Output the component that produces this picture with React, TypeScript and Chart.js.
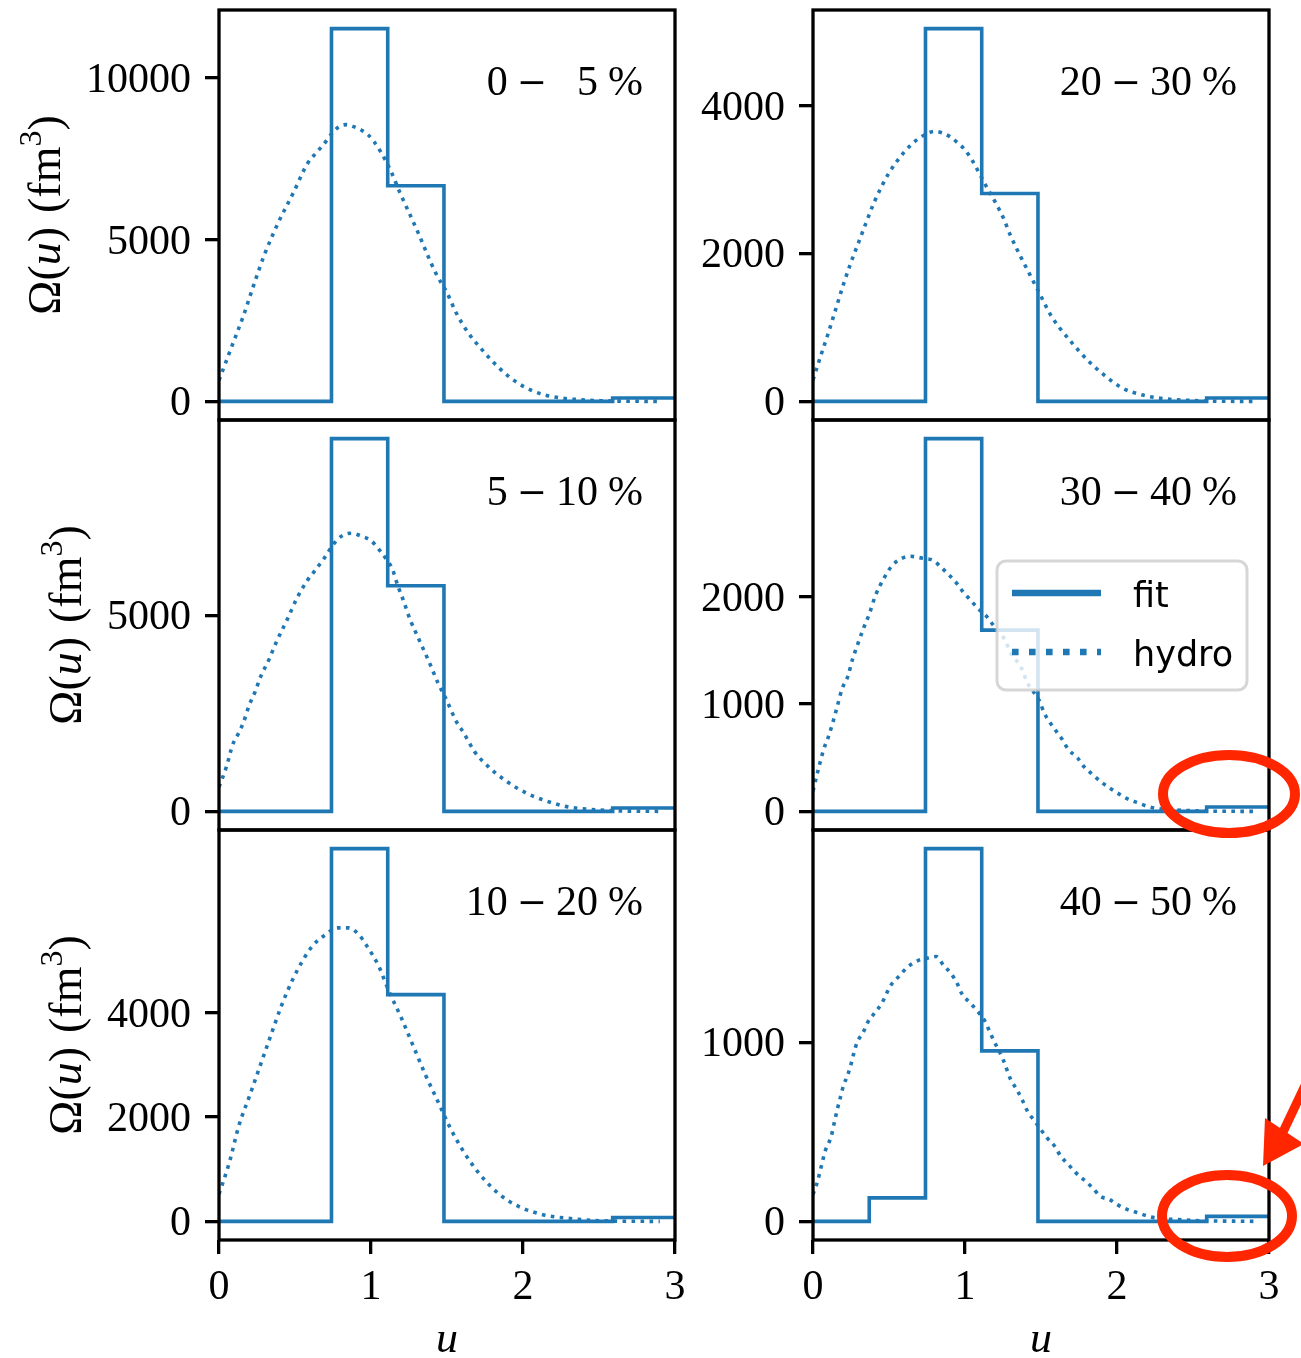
import { useEffect, useRef } from 'react';
import { Chart, registerables } from 'chart.js';

Chart.register(...registerables);

const PAGE_W = 1301;
const PAGE_H = 1358;

const SERIF = "'Liberation Serif', 'Times New Roman', serif";
const MINUS_FONT = "'DejaVu Serif', serif";
const SANS = "'DejaVu Sans', 'Noto Sans', sans-serif";
const BLUE = '#1f77b4';
const RED = '#ff2600';

// Left edges of the u bins of the fitted Ω(u); the last bin runs up to U_MAX.
const BIN_EDGES = [0, 0.37, 0.74, 1.11, 1.48, 1.85, 2.22, 2.59];
const U_MAX = 3;
const U_TICKS = [0, 1, 2, 3];

// Fitted Ω(u) per bin (fm^3)
const FIT_0_5 = [0, 0, 11530, 6670, 0, 0, 0, 105];
const FIT_5_10 = [0, 0, 9500, 5750, 0, 0, 0, 85];
const FIT_10_20 = [0, 0, 7150, 4350, 0, 0, 0, 75];
const FIT_20_30 = [0, 0, 5040, 2810, 0, 0, 0, 46];
const FIT_30_40 = [0, 0, 3475, 1690, 0, 0, 0, 40];
const FIT_40_50 = [0, 131, 2083, 953, 0, 0, 0, 28];

// Hydro Ω(u) samples as [u, Ω]
const HYDRO_0_5 = [
  [0, 650], [0.08, 1650], [0.16, 2640], [0.23, 3620], [0.3, 4550], [0.39, 5530],
  [0.49, 6460], [0.58, 7340], [0.64, 7690], [0.69, 7960], [0.74, 8270], [0.79, 8500],
  [0.84, 8560], [0.89, 8490], [0.94, 8380], [0.98, 8250], [1.02, 8030], [1.06, 7750],
  [1.13, 7130], [1.19, 6460], [1.25, 5840], [1.31, 5220], [1.37, 4550], [1.43, 3930],
  [1.5, 3360], [1.56, 2740], [1.64, 2120], [1.73, 1600], [1.83, 1090], [1.94, 650],
  [2.07, 310], [2.22, 125], [2.36, 55], [2.52, 20], [2.66, 5], [2.9, 0],
];
const HYDRO_5_10 = [
  [0, 620], [0.05, 1150], [0.09, 1700], [0.13, 2000], [0.16, 2260], [0.2, 2720],
  [0.24, 3070], [0.27, 3400], [0.33, 3880], [0.38, 4340], [0.45, 4900], [0.51, 5410],
  [0.58, 5880], [0.63, 6130], [0.69, 6440], [0.75, 6790], [0.8, 7000], [0.87, 7090],
  [0.94, 7010], [1.0, 6900], [1.06, 6640], [1.1, 6430], [1.14, 6180], [1.18, 5710],
  [1.21, 5410], [1.26, 4860], [1.29, 4600], [1.32, 4340], [1.38, 3830], [1.44, 3280],
  [1.5, 2810], [1.56, 2300], [1.61, 2000], [1.68, 1530], [1.78, 1110], [1.89, 770],
  [2.02, 470], [2.16, 256], [2.3, 112], [2.45, 50], [2.6, 15], [2.9, 0],
];
const HYDRO_10_20 = [
  [0, 520], [0.07, 1150], [0.13, 1830], [0.2, 2400], [0.27, 2980], [0.34, 3560],
  [0.41, 4130], [0.48, 4610], [0.55, 5000], [0.62, 5300], [0.7, 5500], [0.78, 5630],
  [0.85, 5630], [0.92, 5500], [0.98, 5250], [1.05, 4900], [1.12, 4400], [1.2, 3900],
  [1.28, 3350], [1.36, 2800], [1.44, 2300], [1.52, 1800], [1.6, 1380], [1.7, 960],
  [1.8, 635], [1.9, 400], [2.0, 250], [2.15, 115], [2.3, 58], [2.45, 20], [2.6, 5], [2.9, 0],
];
const HYDRO_20_30 = [
  [0, 290], [0.05, 610], [0.1, 920], [0.15, 1250], [0.2, 1580], [0.25, 1880],
  [0.3, 2150], [0.35, 2420], [0.4, 2680], [0.45, 2900], [0.5, 3090], [0.55, 3240],
  [0.6, 3370], [0.65, 3480], [0.7, 3560], [0.75, 3620], [0.8, 3650], [0.85, 3630],
  [0.9, 3580], [0.95, 3500], [1.0, 3400], [1.05, 3250], [1.1, 3060], [1.15, 2870],
  [1.2, 2690], [1.25, 2490], [1.3, 2240], [1.37, 1940], [1.43, 1700], [1.5, 1420],
  [1.56, 1180], [1.62, 1000], [1.7, 800], [1.8, 570], [1.91, 365], [2.03, 185],
  [2.18, 80], [2.32, 33], [2.46, 15], [2.6, 3], [2.9, 0],
];
const HYDRO_30_40 = [
  [0, 190], [0.04, 420], [0.07, 577], [0.1, 690], [0.13, 826], [0.16, 981],
  [0.19, 1137], [0.23, 1262], [0.26, 1418], [0.29, 1542], [0.33, 1698], [0.37, 1838],
  [0.41, 2009], [0.47, 2181], [0.52, 2290], [0.58, 2355], [0.64, 2378], [0.72, 2360],
  [0.79, 2340], [0.84, 2280], [0.9, 2196], [0.95, 2119], [0.99, 2041], [1.04, 1963],
  [1.09, 1885], [1.14, 1822], [1.19, 1729], [1.26, 1605], [1.3, 1480], [1.37, 1340],
  [1.41, 1200], [1.49, 1028], [1.52, 920], [1.56, 826], [1.6, 748], [1.64, 670],
  [1.68, 577], [1.74, 499], [1.78, 421], [1.84, 343], [1.89, 280], [1.95, 219],
  [2.02, 156], [2.07, 116], [2.14, 79], [2.2, 47], [2.29, 22], [2.44, 9], [2.6, 2], [2.9, 0],
];
const HYDRO_40_50 = [
  [0, 150], [0.03, 224], [0.06, 327], [0.08, 392], [0.12, 476], [0.14, 552],
  [0.16, 626], [0.18, 692], [0.2, 757], [0.23, 822], [0.25, 878], [0.27, 944],
  [0.29, 1000], [0.33, 1056], [0.36, 1112], [0.4, 1159], [0.45, 1215], [0.51, 1317],
  [0.57, 1373], [0.62, 1420], [0.69, 1457], [0.75, 1470], [0.81, 1480], [0.86, 1429],
  [0.91, 1383], [0.95, 1327], [0.98, 1271], [1.03, 1224], [1.08, 1177], [1.13, 1121],
  [1.16, 1065], [1.19, 1009], [1.25, 906], [1.3, 794], [1.34, 738], [1.38, 673],
  [1.41, 617], [1.45, 570], [1.49, 523], [1.54, 467], [1.59, 420], [1.63, 364],
  [1.68, 318], [1.73, 271], [1.78, 234], [1.84, 187], [1.89, 140], [1.95, 122],
  [2.0, 94], [2.07, 66], [2.14, 47], [2.22, 25], [2.31, 13], [2.4, 10], [2.5, 5], [2.9, 0],
];

// Y tick values per panel
const Y_TICKS_0_5 = [0, 5000, 10000];
const Y_TICKS_5_10 = [0, 5000];
const Y_TICKS_10_20 = [0, 2000, 4000];
const Y_TICKS_20_30 = [0, 2000, 4000];
const Y_TICKS_30_40 = [0, 1000, 2000];
const Y_TICKS_40_50 = [0, 1000];

// Centrality classes: [lower, upper] in percent
const CENTRALITY_LOW = ['0', '5', '10', '20', '30', '40'];
const CENTRALITY_HIGH = ['\u20075', '10', '20', '30', '40', '50'];

// Grid of plot areas (page pixels)
const COL_LEFT = [219, 813];
const COL_RIGHT = [675, 1269];
const ROW_TOP = [10, 420, 830];
const ROW_BOTTOM = [420, 830, 1240];
const Y_AXIS_W = 150;
const X_AXIS_H = 60;

const LINE_W = 3.6;

type Panel = {
  low: string;
  high: string;
  fit: number[];
  hydro: number[][];
  yTicks: number[];
  row: number;
  col: number;
  legend?: boolean;
  marks?: boolean;
};

const PANELS: Panel[] = [
  { low: CENTRALITY_LOW[0], high: CENTRALITY_HIGH[0], fit: FIT_0_5, hydro: HYDRO_0_5, yTicks: Y_TICKS_0_5, row: 0, col: 0 },
  { low: CENTRALITY_LOW[1], high: CENTRALITY_HIGH[1], fit: FIT_5_10, hydro: HYDRO_5_10, yTicks: Y_TICKS_5_10, row: 1, col: 0 },
  { low: CENTRALITY_LOW[2], high: CENTRALITY_HIGH[2], fit: FIT_10_20, hydro: HYDRO_10_20, yTicks: Y_TICKS_10_20, row: 2, col: 0 },
  { low: CENTRALITY_LOW[3], high: CENTRALITY_HIGH[3], fit: FIT_20_30, hydro: HYDRO_20_30, yTicks: Y_TICKS_20_30, row: 0, col: 1 },
  { low: CENTRALITY_LOW[4], high: CENTRALITY_HIGH[4], fit: FIT_30_40, hydro: HYDRO_30_40, yTicks: Y_TICKS_30_40, row: 1, col: 1, legend: true },
  { low: CENTRALITY_LOW[5], high: CENTRALITY_HIGH[5], fit: FIT_40_50, hydro: HYDRO_40_50, yTicks: Y_TICKS_40_50, row: 2, col: 1, marks: true },
];

// Draws a run of [text, font, dy] pieces along the current baseline, starting at x.
function drawPieces(ctx: CanvasRenderingContext2D, pieces: any[], x: number, y: number) {
  let cx = x;
  pieces.forEach((s) => {
    if (s.gap) {
      cx += s.gap;
      return;
    }
    ctx.font = s.font;
    ctx.fillText(s.t, cx, y + (s.dy || 0));
    cx += ctx.measureText(s.t).width;
  });
}

function piecesWidth(ctx: CanvasRenderingContext2D, pieces: any[]) {
  return pieces.reduce((sum, s) => {
    if (s.gap) return sum + s.gap;
    ctx.font = s.font;
    return sum + ctx.measureText(s.t).width;
  }, 0);
}

function drawCentrality(ctx: CanvasRenderingContext2D, p: Panel, right: number, baseline: number) {
  const pieces = [
    { t: p.low, font: `42px ${SERIF}` },
    { gap: 9 },
    { t: '\u2212', font: `36px ${MINUS_FONT}`, dy: -1 },
    { gap: 9 },
    { t: p.high, font: `42px ${SERIF}` },
    { gap: 10 },
    { t: '%', font: `42px ${SERIF}` },
  ];
  ctx.textAlign = 'left';
  ctx.textBaseline = 'alphabetic';
  ctx.fillStyle = '#000';
  const w = piecesWidth(ctx, pieces);
  drawPieces(ctx, pieces, right - w, baseline);
}

function drawYTitle(ctx: CanvasRenderingContext2D, chart: any, p: Panel) {
  const a = chart.chartArea;
  ctx.font = `42px ${SERIF}`;
  const maxW = Math.max(...p.yTicks.map((v) => ctx.measureText(String(v)).width));
  const baseX = a.left - 28 - maxW - 26;
  const cy = (a.top + a.bottom) / 2;
  const pieces = [
    { t: '\u03A9(', font: `46px ${SERIF}` },
    { t: 'u', font: `italic 46px ${SERIF}` },
    { t: ')', font: `46px ${SERIF}` },
    { gap: 14 },
    { t: '(fm', font: `46px ${SERIF}` },
    { t: '3', font: `32px ${SERIF}`, dy: -19 },
    { t: ')', font: `46px ${SERIF}` },
  ];
  const total = piecesWidth(ctx, pieces);
  ctx.save();
  ctx.translate(baseX, cy);
  ctx.rotate(-Math.PI / 2);
  ctx.textAlign = 'left';
  ctx.textBaseline = 'alphabetic';
  ctx.fillStyle = '#000';
  drawPieces(ctx, pieces, -total / 2, 0);
  ctx.restore();
}

function drawLegend(ctx: CanvasRenderingContext2D, chart: any) {
  const a = chart.chartArea;
  const bx = a.right - 272;
  const by = a.top + 141;
  const bw = 250;
  const bh = 129;
  ctx.save();
  ctx.beginPath();
  if ((ctx as any).roundRect) (ctx as any).roundRect(bx, by, bw, bh, 9);
  else ctx.rect(bx, by, bw, bh);
  ctx.fillStyle = 'rgba(255,255,255,0.8)';
  ctx.fill();
  ctx.lineWidth = 3;
  ctx.strokeStyle = 'rgba(204,204,204,0.8)';
  ctx.stroke();
  chart.data.datasets.forEach((ds: any, i: number) => {
    const y = by + 32 + i * 59;
    ctx.beginPath();
    ctx.strokeStyle = ds.borderColor;
    ctx.lineWidth = 6.6;
    ctx.setLineDash(ds.borderDash ? [6.6, 10.4] : []);
    ctx.lineCap = 'butt';
    ctx.moveTo(bx + 15, y);
    ctx.lineTo(bx + 104, y);
    ctx.stroke();
    ctx.setLineDash([]);
    ctx.fillStyle = '#000';
    ctx.font = `35px ${SANS}`;
    ctx.textAlign = 'left';
    ctx.textBaseline = 'alphabetic';
    ctx.fillText(ds.label, bx + 136, y + 14);
  });
  ctx.restore();
}

function drawMarks(ctx: CanvasRenderingContext2D) {
  ctx.save();
  ctx.strokeStyle = RED;
  ctx.fillStyle = RED;
  ctx.lineWidth = 10;
  ctx.beginPath();
  ctx.ellipse(1229, 794, 66, 39, 0, 0, Math.PI * 2);
  ctx.stroke();
  ctx.beginPath();
  ctx.ellipse(1227, 1216, 65, 41, 0, 0, Math.PI * 2);
  ctx.stroke();
  ctx.lineWidth = 9;
  ctx.beginPath();
  ctx.moveTo(1283, 1132);
  ctx.lineTo(1310, 1075);
  ctx.stroke();
  ctx.beginPath();
  ctx.moveTo(1263, 1166);
  ctx.lineTo(1265, 1118);
  ctx.lineTo(1304, 1144);
  ctx.closePath();
  ctx.fill();
  ctx.restore();
}

function decorPlugin(p: Panel) {
  return {
    id: 'panelDecor',
    afterDraw(chart: any) {
      const { ctx, chartArea: a } = chart;
      ctx.save();
      ctx.strokeStyle = '#000';
      ctx.lineWidth = 3.3;
      ctx.setLineDash([]);
      ctx.strokeRect(a.left, a.top, a.right - a.left, a.bottom - a.top);

      drawCentrality(ctx, p, a.right - 32, a.top + 85);

      if (p.col === 0) drawYTitle(ctx, chart, p);
      if (p.row === 2) {
        ctx.fillStyle = '#000';
        ctx.font = `italic 44px ${SERIF}`;
        ctx.textAlign = 'center';
        ctx.textBaseline = 'alphabetic';
        ctx.fillText('u', (a.left + a.right) / 2, a.bottom + 112);
      }
      if (p.legend) drawLegend(ctx, chart);
      if (p.marks) drawMarks(ctx);
      ctx.restore();
    },
  };
}

function makeConfig(p: Panel): any {
  const L = COL_LEFT[p.col];
  const R = COL_RIGHT[p.col];
  const T = ROW_TOP[p.row];
  const B = ROW_BOTTOM[p.row];
  const bottomRow = p.row === 2;
  const peak = Math.max(...p.fit);
  const fitPoints = p.fit.map((v, i) => ({ x: BIN_EDGES[i], y: v }));
  fitPoints.push({ x: U_MAX, y: p.fit[p.fit.length - 1] });
  const tickFont = { family: SERIF, size: 42, lineHeight: 1.2 };
  const gridOpts = {
    drawOnChartArea: false,
    drawTicks: true,
    tickLength: 14,
    tickWidth: 3.3,
    tickColor: '#000',
    lineWidth: 3.3,
    color: '#000',
  };
  return {
    type: 'line',
    data: {
      datasets: [
        {
          label: 'fit',
          data: fitPoints,
          borderColor: BLUE,
          borderWidth: LINE_W,
          stepped: true,
          pointRadius: 0,
          fill: false,
          order: 2,
        },
        {
          label: 'hydro',
          data: p.hydro.map(([x, y]) => ({ x, y })),
          borderColor: BLUE,
          borderWidth: LINE_W,
          borderDash: [LINE_W, 5.4],
          pointRadius: 0,
          fill: false,
          cubicInterpolationMode: 'monotone',
          order: 1,
        },
      ],
    },
    options: {
      animation: false,
      responsive: false,
      maintainAspectRatio: false,
      devicePixelRatio: 1,
      events: [],
      layout: {
        autoPadding: false,
        padding: {
          left: L - Y_AXIS_W,
          top: T,
          right: PAGE_W - R,
          bottom: PAGE_H - B - (bottomRow ? X_AXIS_H : 0),
        },
      },
      plugins: {
        legend: { display: false },
        tooltip: { enabled: false },
        title: { display: false },
      },
      scales: {
        x: {
          type: 'linear',
          min: 0,
          max: U_MAX,
          bounds: 'data',
          display: bottomRow,
          afterBuildTicks: (s: any) => {
            s.ticks = U_TICKS.map((value) => ({ value }));
          },
          afterFit: (s: any) => {
            s.height = bottomRow ? X_AXIS_H : 0;
            s.paddingLeft = 0;
            s.paddingRight = 0;
            s.paddingTop = 0;
            s.paddingBottom = 0;
          },
          grid: gridOpts,
          border: { display: false },
          ticks: {
            font: tickFont,
            color: '#000',
            padding: 9,
            maxRotation: 0,
            autoSkip: false,
            callback: (v: number) => String(v),
          },
        },
        y: {
          type: 'linear',
          min: -0.05 * peak,
          max: 1.05 * peak,
          bounds: 'data',
          afterBuildTicks: (s: any) => {
            s.ticks = p.yTicks.map((value) => ({ value }));
          },
          afterFit: (s: any) => {
            s.width = Y_AXIS_W;
            s.paddingLeft = 0;
            s.paddingRight = 0;
            s.paddingTop = 0;
            s.paddingBottom = 0;
          },
          grid: gridOpts,
          border: { display: false },
          ticks: {
            font: tickFont,
            color: '#000',
            padding: 14,
            labelOffset: 3,
            autoSkip: false,
            callback: (v: number) => String(v),
          },
        },
      },
    },
    plugins: [decorPlugin(p)],
  };
}

export default function App() {
  const refs = useRef<(HTMLCanvasElement | null)[]>([]);

  useEffect(() => {
    const charts = PANELS.map((p, i) => new Chart(refs.current[i] as HTMLCanvasElement, makeConfig(p)));
    return () => charts.forEach((c) => c.destroy());
  }, []);

  return (
    <div
      style={{
        position: 'absolute',
        left: 0,
        top: 0,
        width: PAGE_W,
        height: PAGE_H,
        background: '#fff',
        overflow: 'hidden',
      }}
    >
      {PANELS.map((p, i) => (
        <canvas
          key={`${p.low}-${p.high}`}
          ref={(el) => {
            refs.current[i] = el;
          }}
          width={PAGE_W}
          height={PAGE_H}
          style={{ position: 'absolute', left: 0, top: 0, width: PAGE_W, height: PAGE_H }}
        />
      ))}
    </div>
  );
}
